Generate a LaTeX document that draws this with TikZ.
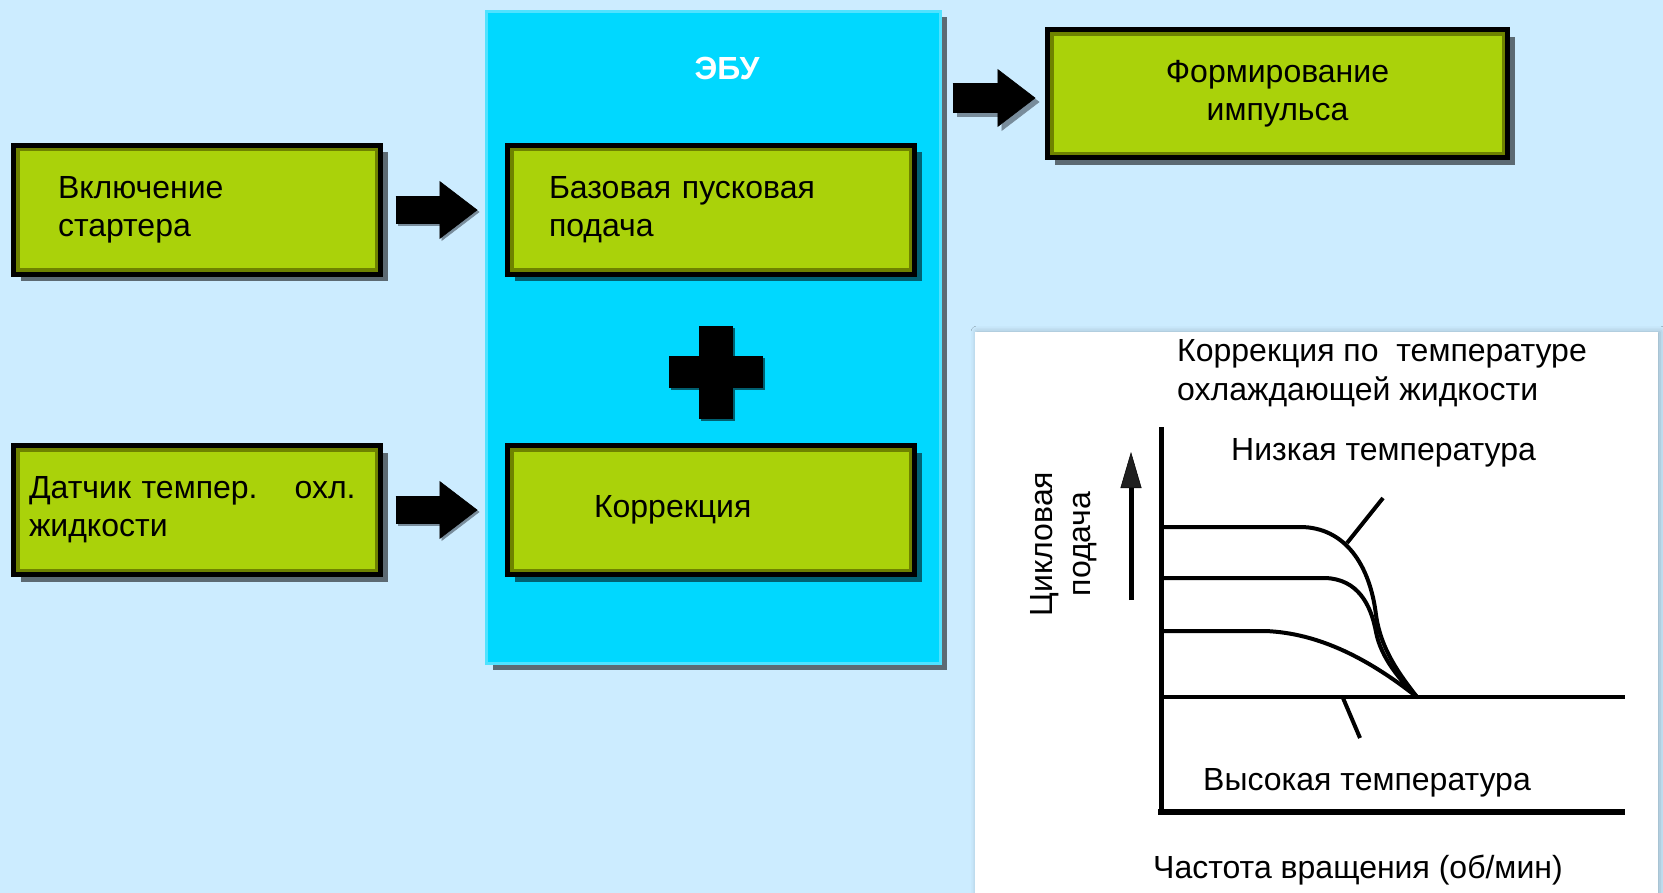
\documentclass[tikz,border=0pt]{standalone}
\usepackage{fontspec}
\setmainfont{Liberation Sans}
\usetikzlibrary{arrows.meta,shadows,shadows.blur}

\definecolor{skybg}{RGB}{204,236,255}
\definecolor{ecucyan}{RGB}{0,216,255}
\definecolor{ecuedge}{RGB}{80,226,255}
\definecolor{boxgreen}{RGB}{170,210,10}
\definecolor{boxolive}{RGB}{110,130,0}
\definecolor{arrowshade}{RGB}{120,140,155}
\definecolor{plusshade}{RGB}{0,95,112}

\begin{document}
\begin{tikzpicture}[x=1pt,y=-1pt,
  font=\fontsize{32}{38}\selectfont,
  greenbox/.style={draw=black, line width=5pt, fill=boxgreen, inner ysep=0pt, align=left,
    drop shadow={shadow xshift=7pt, shadow yshift=-7pt, fill=black, opacity=0.55},
    path picture={\draw[boxolive, line width=12pt]
      (path picture bounding box.south west) rectangle (path picture bounding box.north east);}},
  blockarrow/.style={line width=28pt, draw=black,
    -{Triangle[length=38pt,width=58pt,line width=0.5pt]}},
  arrowshadow/.style={blockarrow, draw=arrowshade, transform canvas={shift={(2pt,-2pt)}}},
  curve/.style={line width=4pt, line cap=round},
  txt/.style={anchor=base west, inner sep=0pt}
]
% canvas
\fill[skybg] (0,0) rectangle (1663,893);
\useasboundingbox (0,0) rectangle (1663,893);
\clip (0,0) rectangle (1663,893);

% chart panel
\fill[white, blur shadow={shadow xshift=2pt, shadow yshift=0pt,
  shadow blur radius=6pt, shadow opacity=25}] (975,332) rectangle (1658,905);

% control unit
\node[draw=ecuedge, line width=3pt, fill=ecucyan, minimum width=454pt,
  minimum height=652pt, inner sep=0pt,
  drop shadow={shadow xshift=6pt, shadow yshift=-6pt, fill=black, opacity=0.55}]
  (ecu) at (713.5,337.5) {};
\node[anchor=base, inner sep=0pt, text=white, font=\fontsize{32}{38}\selectfont\bfseries]
  (ecutitle) at (727,80) {ЭБУ};

% blocks
\node[greenbox, minimum width=367pt, minimum height=129pt, text width=278pt,
  inner xsep=44.5pt] (start) at (197,210) {Включение\\стартера};
\node[greenbox, minimum width=367pt, minimum height=129pt, text width=336pt,
  inner xsep=15.5pt] (sensor) at (197,510) {Датчик темпер.\hspace{37pt}охл.\\жидкости};
\node[greenbox, minimum width=407pt, minimum height=129pt, text width=324pt,
  inner xsep=41.5pt] (base) at (711,210) {Базовая пусковая\\подача};
\node[greenbox, minimum width=407pt, minimum height=129pt, text width=234pt,
  inner xsep=86.5pt] (corr) at (711,510) {Коррекция};
\node[greenbox, align=center, minimum width=460pt, minimum height=128pt,
  text width=420pt, inner xsep=20pt] (pulse) at (1277.5,94) {Формирование\\импульса};

% plus sign
\fill[plusshade] (701,328) rectangle (735,421);
\fill[plusshade] (671,358) rectangle (765,390);
\fill[black] (699,326) rectangle (733,419);
\fill[black] (669,356) rectangle (763,388);

% block arrows: soft shade first, then the arrows
\draw[arrowshadow, shorten <=12.5pt, shorten >=27.5pt] (start.east) -- (base.west);
\draw[arrowshadow, shorten <=12.5pt, shorten >=27.5pt] (sensor.east) -- (corr.west);
\draw[arrowshadow, line width=30pt, shorten <=10.5pt, shorten >=9.5pt,
  transform canvas={shift={(2pt,-6pt)}}] (ecu.east |- pulse.west) -- (pulse.west);
\draw[blockarrow, shorten <=12.5pt, shorten >=27.5pt] (start.east) -- (base.west);
\draw[blockarrow, shorten <=12.5pt, shorten >=27.5pt] (sensor.east) -- (corr.west);
\draw[blockarrow, line width=30pt, shorten <=10.5pt, shorten >=9.5pt,
  transform canvas={yshift=-4pt}] (ecu.east |- pulse.west) -- (pulse.west);

% chart: axes and reference lines
\draw[line width=5pt] (1161,427) -- (1161,814);
\draw[line width=6pt] (1158,812) -- (1625,812);
\draw[line width=4.5pt] (1161,697) -- (1625,697);

% chart: fuel curves
\draw[curve] (1161,527) -- (1300,527) .. controls (1345,527) and (1370,565) .. (1376,615)
  .. controls (1381,650) and (1400,675) .. (1417,697);
\draw[curve] (1161,578) -- (1325,578) .. controls (1358,579) and (1371,605) .. (1376,632)
  .. controls (1381,658) and (1400,680) .. (1417,697);
\draw[curve] (1161,631) -- (1265,631) .. controls (1320,633) and (1370,660) .. (1417,697);

% chart: leader lines
\draw[line width=4pt] (1383,498) -- (1347,543);
\draw[line width=4pt] (1343,698) -- (1360,738);

% chart: direction of growth
\draw[line width=5pt, -{Triangle[length=36pt,width=21pt,line width=0.5pt]}]
  (1131,600) -- (1131,452);

% chart: texts
\node[txt] (title1) at (1177,362) {Коррекция по\ \ температуре};
\node[txt] (title2) at (1177,400) {охлаждающей жидкости};
\node[txt] (lowt) at (1231,460) {Низкая температура};
\node[txt] (hight) at (1203,790) {Высокая температура};
\node[txt] (xlabel) at (1153,878) {Частота вращения (об/мин)};
\node[rotate=90, inner sep=0pt] (ylabel1) at (1045,544) {Цикловая};
\node[rotate=90, inner sep=0pt] (ylabel2) at (1085,544) {подача};
\end{tikzpicture}
\end{document}
